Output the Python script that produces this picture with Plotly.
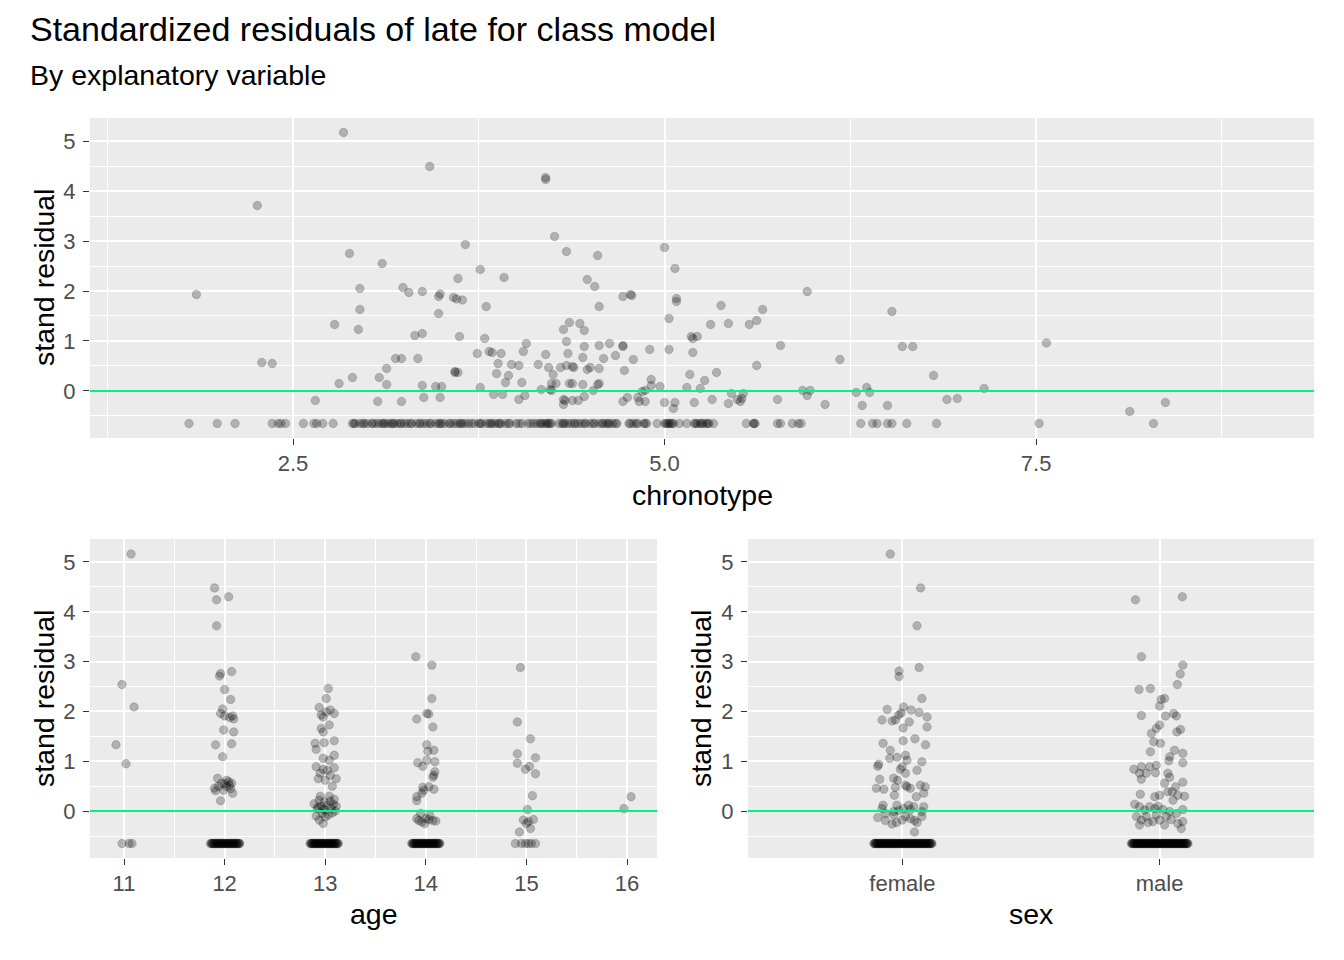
import plotly.graph_objects as go

# residual of every student who was never late (the flat bottom row)
FLOOR_RESID = -0.65

# chronotype panel, points above the floor row
chrono = [2.84, 3.42, 2.26, 3.66, 2.88, 3.10, 3.76, 3.92, 3.61, 1.85, 2.95, 3.24, 3.28, 3.37, 3.49,
          3.48, 3.58, 3.60, 3.64, 3.80, 2.95, 3.48, 2.78, 2.94, 3.32, 3.37, 3.62, 3.79, 2.29, 2.36,
          3.19, 3.23, 3.34, 3.74, 3.82, 3.84, 3.90, 3.88, 3.13, 3.59, 3.61, 3.59, 3.87, 2.90, 2.81,
          3.08, 3.13, 3.37, 3.46, 3.50, 3.76, 3.93, 2.65, 3.07, 3.23, 3.38, 3.49, 3.85, 3.91,
          4.20, 4.20, 4.26, 4.34, 4.55, 5.00, 5.07, 4.48, 4.53, 4.72, 4.77, 4.78, 4.56, 5.08, 5.08,
          5.96, 6.53, 5.03, 5.38, 5.66, 5.62, 5.57, 5.43, 5.31, 4.36, 4.32, 4.43, 4.46, 4.07, 4.05,
          4.34, 4.35, 4.20, 4.46, 4.56, 4.63, 4.72, 4.72, 4.45, 4.59, 4.67, 4.79, 4.90, 5.03, 5.19,
          5.22, 5.18, 5.19, 5.78, 5.62, 6.18, 6.60, 6.67, 3.97, 4.02, 4.15, 4.22, 4.30, 4.34, 4.38,
          4.39, 4.48, 4.50, 4.56, 4.73, 4.25, 4.24, 4.27, 3.95, 4.04, 4.36, 4.38, 4.45, 4.55, 4.56,
          4.91, 4.91, 4.97, 5.17, 5.27, 5.35, 5.15, 5.24, 4.17, 4.23, 4.24, 4.52, 4.85, 4.87, 4.02,
          4.06, 4.32, 4.32, 4.33, 4.38, 4.42, 4.46, 4.72, 4.75, 4.82, 4.83, 4.87, 5.00, 5.06, 5.07,
          5.20, 5.32, 5.43, 5.45, 5.49, 5.51, 5.53, 5.52, 5.76, 5.93, 5.98, 5.96, 6.08, 6.29, 6.36,
          6.38, 6.33, 6.50, 6.81, 6.90, 6.97, 7.15, 7.57, 8.13, 8.37]
chrono_resid = [5.17, 4.49, 3.71, 2.93, 2.75, 2.55, 2.43, 2.27, 2.25, 1.93, 2.05, 2.07, 1.97, 1.99, 1.94,
                1.89, 1.87, 1.84, 1.82, 1.69, 1.63, 1.55, 1.33, 1.23, 1.11, 1.15, 1.09, 1.05, 0.57, 0.55,
                0.65, 0.65, 0.65, 0.75, 0.79, 0.77, 0.75, 0.55, 0.45, 0.39, 0.37, 0.37, 0.35, 0.27, 0.15,
                0.27, 0.13, 0.11, 0.09, 0.09, 0.07, 0.17, -0.19, -0.21, -0.21, -0.13, -0.13, -0.07, -0.07,
                4.27, 4.23, 3.09, 2.79, 2.71, 2.87, 2.45, 2.23, 2.09, 1.89, 1.93, 1.91, 1.69, 1.85, 1.79,
                1.99, 1.59, 1.45, 1.71, 1.63, 1.41, 1.33, 1.35, 1.33, 1.37, 1.23, 1.35, 1.21, 0.95, 0.79,
                0.99, 0.75, 0.73, 0.89, 0.91, 0.95, 0.91, 0.89, 0.67, 0.65, 0.71, 0.63, 0.83, 0.83, 1.05,
                1.09, 1.09, 0.77, 0.91, 0.51, 0.63, 0.89, 0.89, 0.53, 0.51, 0.53, 0.47, 0.47, 0.51, 0.49,
                0.47, 0.43, 0.47, 0.45, 0.41, 0.33, 0.15, 0.15, 0.31, 0.17, 0.15, 0.15, 0.13, 0.13, 0.15,
                0.23, 0.11, 0.09, 0.33, 0.21, 0.37, 0.07, 0.05, 0.03, 0.03, 0.01, 0.01, -0.01, 0.01, -0.17,
                -0.09, -0.17, -0.27, -0.19, -0.19, -0.19, -0.11, -0.21, -0.13, -0.13, -0.21, -0.21, -0.23, -0.35, -0.23,
                -0.23, -0.17, -0.25, -0.05, -0.17, -0.21, -0.05, -0.15, -0.17, 0.01, 0.01, -0.09, -0.27, -0.03, 0.07,
                -0.03, -0.29, -0.29, 0.31, -0.17, -0.15, 0.05, 0.96, -0.41, -0.23]
# chronotype of the students on the floor row
chrono_floor = [1.80, 1.99, 2.11, 2.36, 2.40, 2.42, 2.45, 2.57, 2.64, 2.66, 2.70, 2.77,
                2.90, 2.92, 2.95, 2.98, 3.00, 3.03, 3.06, 3.08, 3.10, 3.12, 3.14, 3.16, 3.18, 3.20,
                3.22, 3.25, 3.27, 3.30, 3.33, 3.35, 3.38, 3.40, 3.43, 3.46, 3.48, 3.50, 3.52, 3.55,
                3.58, 3.60, 3.62, 3.64, 3.66, 3.68, 3.72, 3.75, 3.77, 3.80, 3.82, 3.84, 3.86, 3.88,
                3.90, 3.93, 3.96, 4.00, 4.04, 4.08, 4.12, 4.14, 4.16, 4.18, 4.20, 4.22, 4.24, 4.29,
                4.31, 4.33, 4.35, 4.37, 4.39, 4.42, 4.44, 4.47, 4.50, 4.53, 4.56, 4.59, 4.61, 4.63,
                4.65, 4.68, 4.76, 4.79, 4.82, 4.86, 4.88, 4.95, 5.00, 5.02, 5.04, 5.06, 5.10, 5.15,
                5.20, 5.22, 5.24, 5.26, 5.28, 5.30, 5.33, 5.55, 5.60, 5.61, 5.76, 5.78, 5.86, 5.90,
                5.92, 6.32, 6.40, 6.43, 6.50, 6.53, 6.63, 6.83, 7.52, 8.29,
                2.91, 2.97, 3.04, 3.11, 3.17, 3.23, 3.29, 3.36, 3.42, 3.49, 3.56, 3.63, 3.70, 3.76,
                3.83, 3.89, 3.95, 4.02, 4.10, 4.17, 4.21, 4.23, 4.32, 4.40, 4.46, 4.52, 4.58, 4.62,
                4.67, 4.77, 4.81, 4.87, 5.01, 5.03, 5.05, 5.21, 5.25, 5.29, 5.60]

# age panel (jittered ages as drawn)
age = [11.07, 10.98, 11.10, 10.92, 11.02,
       11.90, 12.04, 11.92, 11.92, 11.96, 11.95, 12.07, 12.00, 12.06, 11.98, 11.96, 12.00, 12.05,
       12.09, 12.08, 11.99, 12.09, 11.91, 12.07, 11.98, 11.93, 12.02, 12.05, 11.97, 11.90, 11.99,
       12.08, 12.02, 11.91, 12.07, 12.04, 11.96, 12.00, 12.06, 11.94,
       13.03, 13.01, 12.94, 13.05, 13.01, 13.09, 12.96, 12.98, 12.96, 12.98, 13.04, 12.90, 12.91,
       12.99, 13.09, 13.09, 12.98, 13.04, 12.91, 12.98, 13.02, 13.09, 12.95, 13.05, 13.11, 12.93,
       13.00, 13.07, 12.89, 12.92, 12.94, 12.96, 12.97, 12.99, 13.00, 13.02, 13.03, 13.05, 13.06,
       13.08, 13.10, 13.11, 12.91, 12.95, 13.04, 13.00, 12.93, 13.07, 12.98, 13.09, 12.94, 12.98,
       13.90, 14.06, 14.06, 13.91, 14.01, 14.03, 14.07, 14.01, 14.02, 14.08, 13.92, 13.97, 14.01,
       14.09, 14.09, 14.08, 14.07, 13.97, 13.98, 13.96, 13.91, 14.08, 13.91, 14.03, 13.91, 13.95,
       14.00, 14.04, 14.07, 13.96, 14.03, 13.93, 14.10, 13.99,
       14.94, 14.91, 15.04, 14.91, 14.91, 15.09, 14.99, 15.03, 15.09, 15.06, 15.01, 14.97, 15.00,
       15.07, 15.02, 14.93, 15.04,
       16.04, 15.97]
age_resid = [5.16, 2.54, 2.09, 1.33, 0.95,
             4.48, 4.30, 4.24, 3.72, 2.76, 2.71, 2.80, 2.44, 2.24, 2.05, 1.96, 1.91, 1.88,
             1.85, 1.91, 1.63, 1.59, 1.33, 1.35, 1.09, 0.66, 0.62, 0.52, 0.56, 0.46, 0.42,
             0.36, 0.49, 0.41, 0.56, 0.59, 0.21, 0.55, 0.45, 0.50,
             2.46, 2.26, 2.08, 2.03, 1.99, 1.96, 1.93, 1.89, 1.66, 1.59, 1.73, 1.36, 1.24,
             1.37, 1.41, 1.12, 1.06, 1.02, 0.89, 0.84, 0.82, 0.87, 0.76, 0.72, 0.65, 0.65,
             0.62, 0.50, 0.15, 0.05, 0.22, 0.10, -0.05, 0.18, 0.02, 0.12, -0.08, 0.20, 0.06,
             0.14, 0.00, 0.10, -0.10, 0.30, 0.30, -0.12, 0.08, -0.04, 0.04, 0.24, -0.18, -0.25,
             3.10, 2.93, 2.26, 1.85, 1.96, 1.95, 1.69, 1.33, 1.20, 1.22, 0.97, 0.90, 1.02,
             0.99, 0.79, 0.72, 0.68, 0.48, 0.42, 0.36, 0.29, 0.44, 0.21, 0.49, -0.15, -0.05,
             -0.15, -0.09, -0.19, -0.22, -0.17, -0.19, -0.20, -0.25,
             2.88, 1.79, 1.45, 1.15, 0.96, 1.07, 0.84, 0.90, 0.75, 0.31, 0.03, -0.18, -0.25,
             -0.17, -0.21, -0.42, -0.35,
             0.29, 0.05]
age_floor = [10.98, 11.05, 11.08,
             11.860, 11.868, 11.875, 11.883, 11.890, 11.898, 11.905, 11.913, 11.920, 11.928,
             11.935, 11.943, 11.950, 11.958, 11.965, 11.973, 11.980, 11.988, 11.995, 12.003,
             12.010, 12.018, 12.025, 12.033, 12.040, 12.048, 12.055, 12.063, 12.070, 12.078,
             12.085, 12.093, 12.100, 12.108, 12.115, 12.123, 12.130, 12.138, 12.145, 12.150,
             12.850, 12.857, 12.864, 12.871, 12.878, 12.885, 12.892, 12.899, 12.906, 12.913,
             12.920, 12.927, 12.934, 12.941, 12.948, 12.955, 12.962, 12.969, 12.976, 12.983,
             12.990, 12.997, 13.004, 13.011, 13.018, 13.025, 13.032, 13.039, 13.046, 13.053,
             13.060, 13.067, 13.074, 13.081, 13.088, 13.095, 13.102, 13.109, 13.116, 13.123, 13.130,
             13.860, 13.867, 13.874, 13.881, 13.888, 13.895, 13.902, 13.909, 13.916, 13.923,
             13.930, 13.937, 13.944, 13.951, 13.958, 13.965, 13.972, 13.979, 13.986, 13.993,
             14.000, 14.007, 14.014, 14.021, 14.028, 14.035, 14.042, 14.049, 14.056, 14.063,
             14.070, 14.077, 14.084, 14.091, 14.098, 14.105, 14.112, 14.119, 14.126, 14.133, 14.140,
             14.89, 14.95, 14.99, 15.02, 15.05, 15.09]

# sex panel (1 = female, 2 = male, jittered as drawn)
sex_labels = ["female", "male"]
sex_pos = [0.953, 1.071, 1.057, 1.065, 0.987, 0.987, 1.076, 0.941, 1.005, 1.034, 1.065, 0.995, 0.986,
           0.973, 0.960, 0.921, 1.027, 1.096, 1.096, 1.003, 1.003, 1.049, 1.090, 0.925, 0.953, 1.012,
           0.979, 0.951, 1.018, 0.999, 0.992, 0.904, 0.908, 1.076, 1.057, 1.012, 0.912, 0.966, 0.982,
           0.899, 0.928, 0.973, 1.018, 1.031, 1.070, 1.089, 1.083, 1.054, 0.969, 1.012, 0.925, 0.921,
           0.979, 0.986, 1.024, 1.031, 1.083, 1.076, 0.934, 0.966, 1.005, 1.044, 0.904, 0.934, 0.960,
           0.977, 0.999, 1.031, 1.047, 1.057, 1.076, 0.966, 1.012, 1.047,
           1.906, 2.088, 1.929, 2.090, 2.080, 2.069, 1.920, 1.964, 2.006, 2.019, 2.000, 1.929, 2.023,
           2.054, 2.065, 2.067, 2.081, 2.000, 1.987, 1.968, 1.977, 2.003, 1.964, 2.058, 2.090, 2.090,
           2.039, 2.036, 1.900, 1.929, 1.961, 1.987, 1.922, 1.948, 1.984, 1.929, 2.032, 2.039, 2.019,
           2.090, 2.062, 2.049, 1.925, 1.981, 2.000, 2.032, 2.071, 2.097, 2.052, 1.903, 1.922, 1.942,
           1.961, 1.981, 1.994, 2.013, 2.039, 2.065, 2.090, 1.910, 1.929, 1.955, 1.974, 2.000, 2.019,
           2.045, 2.071, 2.084, 2.090, 1.922, 1.948, 1.987, 2.026]
sex_resid = [5.16, 4.48, 3.72, 2.88, 2.81, 2.70, 2.26, 2.04, 2.09, 2.03, 1.98, 1.97, 1.93,
             1.83, 1.81, 1.83, 1.79, 1.89, 1.69, 1.67, 1.41, 1.45, 1.33, 1.36, 1.22, 1.12,
             1.08, 1.06, 1.02, 0.89, 0.84, 0.90, 0.94, 0.99, 0.82, 0.76, 0.64, 0.66, 0.62,
             0.46, 0.44, 0.48, 0.49, 0.46, 0.52, 0.49, 0.36, 0.29, 0.32, 0.52, 0.12, 0.05,
             0.12, 0.01, 0.12, 0.03, 0.09, -0.01, -0.05, -0.01, 0.05, 0.09, -0.13, -0.19, -0.26,
             -0.23, -0.18, -0.15, -0.19, -0.23, -0.11, -0.08, -0.11, -0.42,
             4.24, 4.30, 3.10, 2.93, 2.75, 2.54, 2.44, 2.46, 2.24, 2.26, 2.11, 1.92, 1.91,
             1.96, 1.91, 1.59, 1.64, 1.73, 1.66, 1.56, 1.39, 1.36, 1.19, 1.22, 1.16, 0.97,
             1.09, 1.01, 0.84, 0.89, 0.89, 0.92, 0.76, 0.76, 0.77, 0.64, 0.76, 0.68, 0.56,
             0.58, 0.49, 0.39, 0.34, 0.29, 0.32, 0.39, 0.32, 0.30, 0.22, 0.14, 0.09, 0.02,
             0.09, 0.05, 0.10, 0.03, -0.01, -0.05, 0.03, -0.11, -0.18, -0.23, -0.21, -0.18, -0.28,
             -0.17, -0.25, -0.35, -0.21, -0.28, -0.11, -0.08, -0.11]
sex_floor = [0.889, 0.892, 0.894, 0.897, 0.899, 0.902, 0.905, 0.907, 0.910, 0.912, 0.915, 0.918,
             0.920, 0.923, 0.925, 0.928, 0.931, 0.933, 0.936, 0.938, 0.941, 0.944, 0.946, 0.949,
             0.951, 0.954, 0.957, 0.959, 0.962, 0.964, 0.967, 0.970, 0.972, 0.975, 0.977, 0.980,
             0.983, 0.985, 0.988, 0.990, 0.993, 0.996, 0.998, 1.001, 1.003, 1.006, 1.009, 1.011,
             1.014, 1.016, 1.019, 1.022, 1.024, 1.027, 1.029, 1.032, 1.035, 1.037, 1.040, 1.042,
             1.045, 1.048, 1.050, 1.053, 1.055, 1.058, 1.061, 1.063, 1.066, 1.068, 1.071, 1.074,
             1.076, 1.079, 1.081, 1.084, 1.087, 1.089, 1.092, 1.094, 1.097, 1.100, 1.102, 1.105,
             1.107, 1.110, 1.113, 1.115,
             1.890, 1.893, 1.895, 1.898, 1.900, 1.903, 1.905, 1.908, 1.910, 1.913, 1.915, 1.918,
             1.920, 1.923, 1.925, 1.928, 1.930, 1.933, 1.935, 1.938, 1.940, 1.943, 1.945, 1.948,
             1.950, 1.953, 1.955, 1.958, 1.960, 1.963, 1.965, 1.968, 1.970, 1.973, 1.975, 1.978,
             1.980, 1.983, 1.985, 1.988, 1.990, 1.993, 1.995, 1.998, 2.000, 2.003, 2.005, 2.008,
             2.010, 2.013, 2.015, 2.018, 2.020, 2.023, 2.025, 2.028, 2.030, 2.033, 2.035, 2.038,
             2.040, 2.043, 2.045, 2.048, 2.050, 2.053, 2.055, 2.058, 2.060, 2.063, 2.065, 2.068,
             2.070, 2.073, 2.075, 2.078, 2.080, 2.083, 2.085, 2.088, 2.090, 2.093, 2.095, 2.098,
             2.100, 2.103, 2.105, 2.108, 2.110]

FONT = "Liberation Sans, Arial, sans-serif"
W, H = 1344, 960
PAGE_OFFSET = 8  # the page body margin pushes the plot 8px right and down
PANEL_BG = "#EBEBEB"
ZERO_COLOR = "#00F57F"
YRANGE = [-0.941, 5.461]
TITLE_SIZE = 28.5

marker = dict(size=8.5, color="rgba(0,0,0,0.25)", line=dict(color="rgba(0,0,0,0.22)", width=0.7))

fig = go.Figure()
panels = [
    ("x", "y", chrono, chrono_resid, chrono_floor),
    ("x2", "y2", age, age_resid, age_floor),
    ("x3", "y3", sex_pos, sex_resid, sex_floor),
]
for xa, ya, xs, ys, floor in panels:
    fig.add_trace(go.Scatter(
        x=xs + floor,
        y=ys + [FLOOR_RESID] * len(floor),
        mode="markers", marker=marker, xaxis=xa, yaxis=ya,
        showlegend=False, hoverinfo="skip",
    ))
    # reference line at zero
    fig.add_shape(type="line", xref=f"{xa} domain", yref=ya, x0=0, x1=1, y0=0, y1=0,
                  line=dict(color=ZERO_COLOR, width=2), layer="above")


def px_x(p):
    return (p - PAGE_OFFSET) / W


def px_y(p):
    return 1 - (p - PAGE_OFFSET) / H


tick_font = dict(family=FONT, size=22, color="#4D4D4D")
common_axis = dict(showline=False, zeroline=False, ticks="outside", ticklen=6, tickwidth=1.3,
                   tickcolor="#333333", tickfont=tick_font, gridcolor="white", gridwidth=2,
                   showgrid=True)
y_axis = dict(common_axis, range=YRANGE, tickvals=[0, 1, 2, 3, 4, 5],
              minor=dict(tickvals=[-0.5, 0.5, 1.5, 2.5, 3.5, 4.5], showgrid=True,
                         gridcolor="white", gridwidth=1, ticks=""),
              ticklabelstandoff=3)

top_y = [px_y(438), px_y(118)]
bot_y = [px_y(858), px_y(539)]
left_x = [px_x(90), px_x(1314)]

fig.update_layout(
    width=W, height=H, autosize=False,
    margin=dict(l=0, r=0, t=0, b=0),
    paper_bgcolor="white", plot_bgcolor=PANEL_BG,
    font=dict(family=FONT),
    xaxis=dict(common_axis, domain=left_x, range=[1.134, 9.37], anchor="y",
               tickvals=[2.5, 5.0, 7.5], ticktext=["2.5", "5.0", "7.5"],
               minor=dict(tickvals=[1.25, 3.75, 6.25, 8.75], showgrid=True,
                          gridcolor="white", gridwidth=1, ticks=""),
               ticklabelstandoff=0),
    yaxis=dict(y_axis, domain=top_y, anchor="x"),
    xaxis2=dict(common_axis, domain=[px_x(90), px_x(657)], range=[10.662, 16.298], anchor="y2",
                tickvals=[11, 12, 13, 14, 15, 16],
                minor=dict(tickvals=[11.5, 12.5, 13.5, 14.5, 15.5], showgrid=True,
                           gridcolor="white", gridwidth=1, ticks=""),
                ticklabelstandoff=0),
    yaxis2=dict(y_axis, domain=bot_y, anchor="x2"),
    xaxis3=dict(common_axis, domain=[px_x(748), px_x(1314)], range=[0.4, 2.6], anchor="y3",
                tickvals=[1, 2], ticktext=sex_labels, ticklabelstandoff=0),
    yaxis3=dict(y_axis, domain=bot_y, anchor="x3"),
)

annotations = [
    dict(text="Standardized residuals of late for class model", x=px_x(28), y=px_y(29),
         xanchor="left", yanchor="middle", font=dict(size=34, color="black", family=FONT)),
    dict(text="By explanatory variable", x=px_x(28), y=px_y(75),
         xanchor="left", yanchor="middle", font=dict(size=28.5, color="black", family=FONT)),
    dict(text="chronotype", x=px_x(702), y=px_y(495), xanchor="center", yanchor="middle",
         font=dict(size=TITLE_SIZE, color="black", family=FONT)),
    dict(text="age", x=px_x(374), y=px_y(914), xanchor="center", yanchor="middle",
         font=dict(size=TITLE_SIZE, color="black", family=FONT)),
    dict(text="sex", x=px_x(1031), y=px_y(914), xanchor="center", yanchor="middle",
         font=dict(size=TITLE_SIZE, color="black", family=FONT)),
    dict(text="stand residual", x=px_x(44), y=px_y(278), textangle=-90, xanchor="center",
         yanchor="middle", font=dict(size=TITLE_SIZE, color="black", family=FONT)),
    dict(text="stand residual", x=px_x(44), y=px_y(699), textangle=-90, xanchor="center",
         yanchor="middle", font=dict(size=TITLE_SIZE, color="black", family=FONT)),
    dict(text="stand residual", x=px_x(701), y=px_y(699), textangle=-90, xanchor="center",
         yanchor="middle", font=dict(size=TITLE_SIZE, color="black", family=FONT)),
]
for a in annotations:
    a.update(xref="paper", yref="paper", showarrow=False)
fig.update_layout(annotations=annotations)

fig.write_html("out.html")
